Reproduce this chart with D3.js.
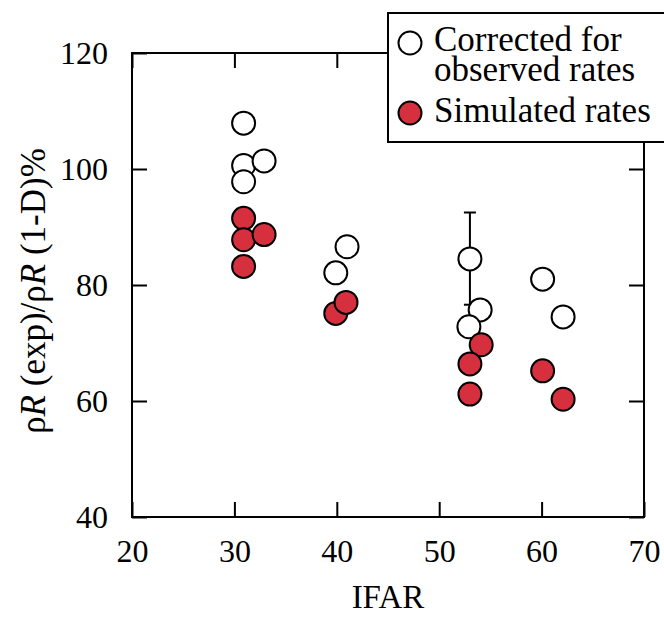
<!DOCTYPE html>
<html>
<head>
<meta charset="utf-8">
<script src="https://cdn.jsdelivr.net/npm/d3@7"></script>
<style>
  body { margin: 0; background: #fff; }
  svg { display: block; }
</style>
</head>
<body>
<div id="chart"></div>
<script>
// values
var xTicks = [20, 30, 40, 50, 60, 70];
var yTicks = [40, 60, 80, 100, 120];

var correctedX = [30.9, 30.9, 30.9, 32.9, 41.0, 39.9, 53.0, 54.0, 52.9, 60.1, 62.1];
var correctedY = [107.9, 100.6, 97.8, 101.4, 86.6, 82.1, 84.5, 75.7, 72.8, 81.0, 74.5];

var simulatedX = [30.9, 30.9, 32.9, 30.9, 39.9, 40.9, 54.1, 53.0, 53.0, 60.1, 62.1];
var simulatedY = [91.5, 87.8, 88.7, 83.2, 75.1, 77.0, 69.7, 66.4, 61.2, 65.2, 60.3];

// the single error bar (on the corrected point at 53)
var errX = [53.0];
var errLow = [76.6];
var errHigh = [92.5];

var legendLabels = [["Corrected for", "observed rates"], ["Simulated rates"]];

var W = 664, H = 620;
var margin = {top: 53, right: 20, bottom: 103, left: 132};
var serif = "'Liberation Serif', 'Times New Roman', Times, serif";

var svg = d3.select("#chart").append("svg")
  .attr("width", W).attr("height", H);

var x = d3.scaleLinear().domain([20, 70]).range([margin.left, W - margin.right]);
var y = d3.scaleLinear().domain([40, 120]).range([H - margin.bottom, margin.top]);

var red = "#d62f3e";

// ticks (inside, on all four sides)
function styleAxis(g) {
  g.attr("font-family", null);
  g.select(".domain").remove();
  g.selectAll(".tick line").attr("stroke", "#000").attr("stroke-width", 2);
  g.selectAll(".tick text").attr("font-size", 32).attr("fill", "#000")
    .style("font-family", serif);
}

svg.append("g")
  .attr("transform", "translate(0," + y(40) + ")")
  .call(d3.axisBottom(x).tickValues(xTicks).tickSizeInner(-15).tickSizeOuter(0).tickPadding(22))
  .call(styleAxis)
  .call(function(g) { g.selectAll(".tick text").attr("dy", "0.71em"); });

svg.append("g")
  .attr("transform", "translate(0," + y(120) + ")")
  .call(d3.axisTop(x).tickValues(xTicks).tickSizeInner(-15).tickSizeOuter(0).tickFormat(""))
  .call(styleAxis);

svg.append("g")
  .attr("transform", "translate(" + x(20) + ",0)")
  .call(d3.axisLeft(y).tickValues(yTicks).tickSizeInner(-15).tickSizeOuter(0).tickPadding(24))
  .call(styleAxis);

svg.append("g")
  .attr("transform", "translate(" + x(70) + ",0)")
  .call(d3.axisRight(y).tickValues(yTicks).tickSizeInner(-15).tickSizeOuter(0).tickFormat(""))
  .call(styleAxis);

// frame
svg.append("rect")
  .attr("x", x(20)).attr("y", y(120))
  .attr("width", x(70) - x(20)).attr("height", y(40) - y(120))
  .attr("fill", "none").attr("stroke", "#000").attr("stroke-width", 2);

// error bar
var eb = svg.append("g").attr("stroke", "#000").attr("stroke-width", 2);
errX.forEach(function(d, i) {
  eb.append("line").attr("x1", x(d)).attr("x2", x(d)).attr("y1", y(errLow[i])).attr("y2", y(errHigh[i]));
  eb.append("line").attr("x1", x(d) - 6).attr("x2", x(d) + 6).attr("y1", y(errLow[i])).attr("y2", y(errLow[i]));
  eb.append("line").attr("x1", x(d) - 6).attr("x2", x(d) + 6).attr("y1", y(errHigh[i])).attr("y2", y(errHigh[i]));
});

// points
svg.append("g").selectAll("circle").data(correctedX)
  .enter().append("circle")
    .attr("cx", function(d) { return x(d); })
    .attr("cy", function(d, i) { return y(correctedY[i]); })
    .attr("r", 11.5)
    .attr("fill", "#fff").attr("stroke", "#000").attr("stroke-width", 2);

svg.append("g").selectAll("circle").data(simulatedX)
  .enter().append("circle")
    .attr("cx", function(d) { return x(d); })
    .attr("cy", function(d, i) { return y(simulatedY[i]); })
    .attr("r", 11.5)
    .attr("fill", red).attr("stroke", "#000").attr("stroke-width", 2);

// axis titles
svg.append("text")
  .attr("x", (x(20) + x(70)) / 2).attr("y", 608)
  .attr("text-anchor", "middle").attr("font-size", 33)
  .style("font-family", serif)
  .text("IFAR");

var yt = svg.append("text")
  .attr("transform", "translate(45,291) rotate(-90)")
  .attr("text-anchor", "middle").attr("font-size", 35)
  .style("font-family", serif);
yt.append("tspan").text("ρ");
yt.append("tspan").attr("font-style", "italic").text("R");
yt.append("tspan").text(" (exp)/ρ");
yt.append("tspan").attr("font-style", "italic").text("R");
yt.append("tspan").text(" (1-D)%");

// legend
var lg = svg.append("g");
lg.append("rect")
  .attr("x", 388).attr("y", 13).attr("width", 300).attr("height", 129)
  .attr("fill", "#fff").attr("stroke", "#000").attr("stroke-width", 2);
lg.append("circle").attr("cx", 410).attr("cy", 43).attr("r", 11.5)
  .attr("fill", "#fff").attr("stroke", "#000").attr("stroke-width", 2);
lg.append("circle").attr("cx", 410).attr("cy", 113).attr("r", 11.5)
  .attr("fill", red).attr("stroke", "#000").attr("stroke-width", 2);
lg.append("text").attr("x", 434).attr("y", 51).attr("font-size", 35).style("font-family", serif).text(legendLabels[0][0]);
lg.append("text").attr("x", 434).attr("y", 81).attr("font-size", 35).style("font-family", serif).text(legendLabels[0][1]);
lg.append("text").attr("x", 434).attr("y", 122).attr("font-size", 35).style("font-family", serif).text(legendLabels[1][0]);
</script>
</body>
</html>
